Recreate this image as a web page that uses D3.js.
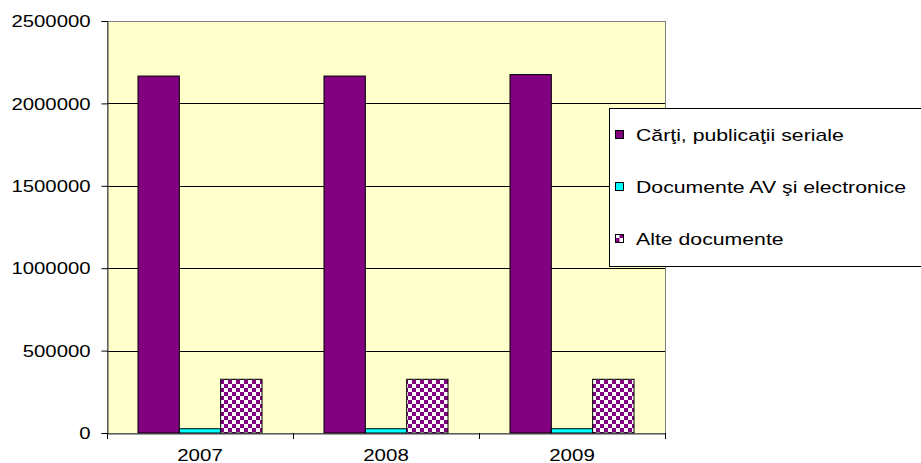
<!DOCTYPE html>
<html>
<head>
<meta charset="utf-8">
<script src="https://cdn.jsdelivr.net/npm/d3@7"></script>
<style>
  body { margin: 0; background: #fff; }
  svg { display: block; font-family: "Liberation Sans", Arial, sans-serif; }
</style>
</head>
<body>
<svg id="chart" width="921" height="463"></svg>
<script>
// chart data
var years = ["2007", "2008", "2009"];
var seriesNames = ["Cărţi, publicaţii seriale", "Documente AV şi electronice", "Alte documente"];
var carti = [2166000, 2166000, 2175000];
var documenteAV = [26000, 26000, 26000];
var alte = [326000, 326000, 326000];
var yTicks = [0, 500000, 1000000, 1500000, 2000000, 2500000];

var svg = d3.select("#chart");

var plotLeft = 107, plotRight = 665, plotTop = 21, plotBottom = 433;

// patterns
var defs = svg.append("defs");
var pat = defs.append("pattern")
    .attr("id", "checker")
    .attr("patternUnits", "userSpaceOnUse")
    .attr("width", 8).attr("height", 8);
pat.append("rect").attr("width", 8).attr("height", 8).attr("fill", "#fff");
pat.append("rect").attr("width", 4).attr("height", 4).attr("fill", "#800080");
pat.append("rect").attr("x", 4).attr("y", 4).attr("width", 4).attr("height", 4).attr("fill", "#800080");

var fills = ["#800080", "#00FFFF", "url(#checker)"];

var xScale = d3.scaleBand()
    .domain(years)
    .range([plotLeft, plotRight]);

// 3 bars per group, gap of 1.5 bar widths (0.75 each side)
var xInner = d3.scaleBand()
    .domain(d3.range(3))
    .range([0, xScale.bandwidth()])
    .paddingOuter(0.75)
    .paddingInner(0);

var yScale = d3.scaleLinear()
    .domain([0, 2500000])
    .range([plotBottom, plotTop]);

// plot background
svg.append("rect")
    .attr("x", plotLeft + 0.5).attr("y", plotTop + 0.5)
    .attr("width", plotRight - plotLeft).attr("height", plotBottom - plotTop)
    .attr("fill", "#FFFFCC")
    .attr("stroke", "#808080")
    .attr("stroke-width", 1);

// gridlines
svg.append("g").selectAll("line")
    .data(yTicks.slice(1, -1))
    .enter().append("line")
    .attr("x1", plotLeft).attr("x2", plotRight)
    .attr("y1", function (d) { return Math.round(yScale(d)) + 0.5; })
    .attr("y2", function (d) { return Math.round(yScale(d)) + 0.5; })
    .attr("stroke", "#000").attr("stroke-width", 1);

// bars
var data = [];
years.forEach(function (y, i) {
    data.push({ year: y, s: 0, v: carti[i] });
    data.push({ year: y, s: 1, v: documenteAV[i] });
    data.push({ year: y, s: 2, v: alte[i] });
});

svg.append("g").selectAll("rect")
    .data(data)
    .enter().append("rect")
    .attr("x", function (d) { return xScale(d.year) + xInner(d.s); })
    .attr("y", function (d) { return yScale(d.v); })
    .attr("width", xInner.bandwidth())
    .attr("height", function (d) { return plotBottom - yScale(d.v); })
    .attr("fill", function (d) { return fills[d.s]; })
    .attr("stroke", "#000")
    .attr("stroke-width", 1);

// y axis
var yAxis = d3.axisLeft(yScale)
    .tickValues(yTicks)
    .tickSize(6)
    .tickFormat(d3.format("d"));

var yg = svg.append("g")
    .attr("transform", "translate(" + (plotLeft + 0.5) + ",0)")
    .call(yAxis);
yg.select(".domain").attr("stroke", "#404040");
yg.selectAll(".tick line").attr("stroke", "#000");
yg.selectAll("text")
    .attr("font-size", 16).attr("fill", "#000")
    .attr("font-family", "Liberation Sans, Arial, sans-serif")
    .attr("x", 0).attr("dy", "0.36em")
    .attr("transform", "translate(-17,0) scale(1.27,1)");

// x axis
var xAxis = d3.axisBottom(xScale).tickSize(0);
var xg = svg.append("g")
    .attr("transform", "translate(0," + (plotBottom + 0.5) + ")")
    .call(xAxis);
xg.select(".domain").attr("stroke", "#404040");
xg.selectAll("text")
    .attr("font-size", 16).attr("fill", "#000")
    .attr("font-family", "Liberation Sans, Arial, sans-serif")
    .attr("y", 0).attr("dy", 0)
    .attr("transform", "translate(0,27) scale(1.28,1)");

// category boundary ticks
var bounds = years.map(function (y) { return xScale(y); }).concat([plotRight]);
svg.append("g").selectAll("line")
    .data(bounds)
    .enter().append("line")
    .attr("x1", function (d) { return Math.round(d) + 0.5; })
    .attr("x2", function (d) { return Math.round(d) + 0.5; })
    .attr("y1", plotBottom).attr("y2", plotBottom + 6)
    .attr("stroke", "#000");

// legend
var lp = defs.append("pattern")
    .attr("id", "legendChecker")
    .attr("patternUnits", "userSpaceOnUse")
    .attr("x", 615.5).attr("y", 0)
    .attr("width", 8).attr("height", 8);
lp.append("rect").attr("width", 8).attr("height", 8).attr("fill", "#800080");
lp.append("rect").attr("x", 4).attr("width", 4).attr("height", 4).attr("fill", "#fff");
lp.append("rect").attr("y", 4).attr("width", 4).attr("height", 4).attr("fill", "#fff");

var legend = svg.append("g");
legend.append("rect")
    .attr("x", 609.5).attr("y", 108.5)
    .attr("width", 330).attr("height", 158)
    .attr("fill", "#fff")
    .attr("stroke", "#000");

var items = legend.selectAll(".item")
    .data(seriesNames)
    .enter().append("g")
    .attr("transform", function (d, i) { return "translate(0," + (134 + i * 52) + ")"; });

items.append("rect")
    .attr("x", 615.5).attr("y", -3.5)
    .attr("width", 8).attr("height", 8)
    .attr("fill", function (d, i) { return i === 2 ? "url(#legendChecker)" : fills[i]; })
    .attr("stroke", "#000");

items.append("text")
    .attr("transform", "translate(636,6.5) scale(1.25,1)")
    .attr("font-size", 17)
    .attr("fill", "#000")
    .text(function (d) { return d; });
</script>
</body>
</html>
